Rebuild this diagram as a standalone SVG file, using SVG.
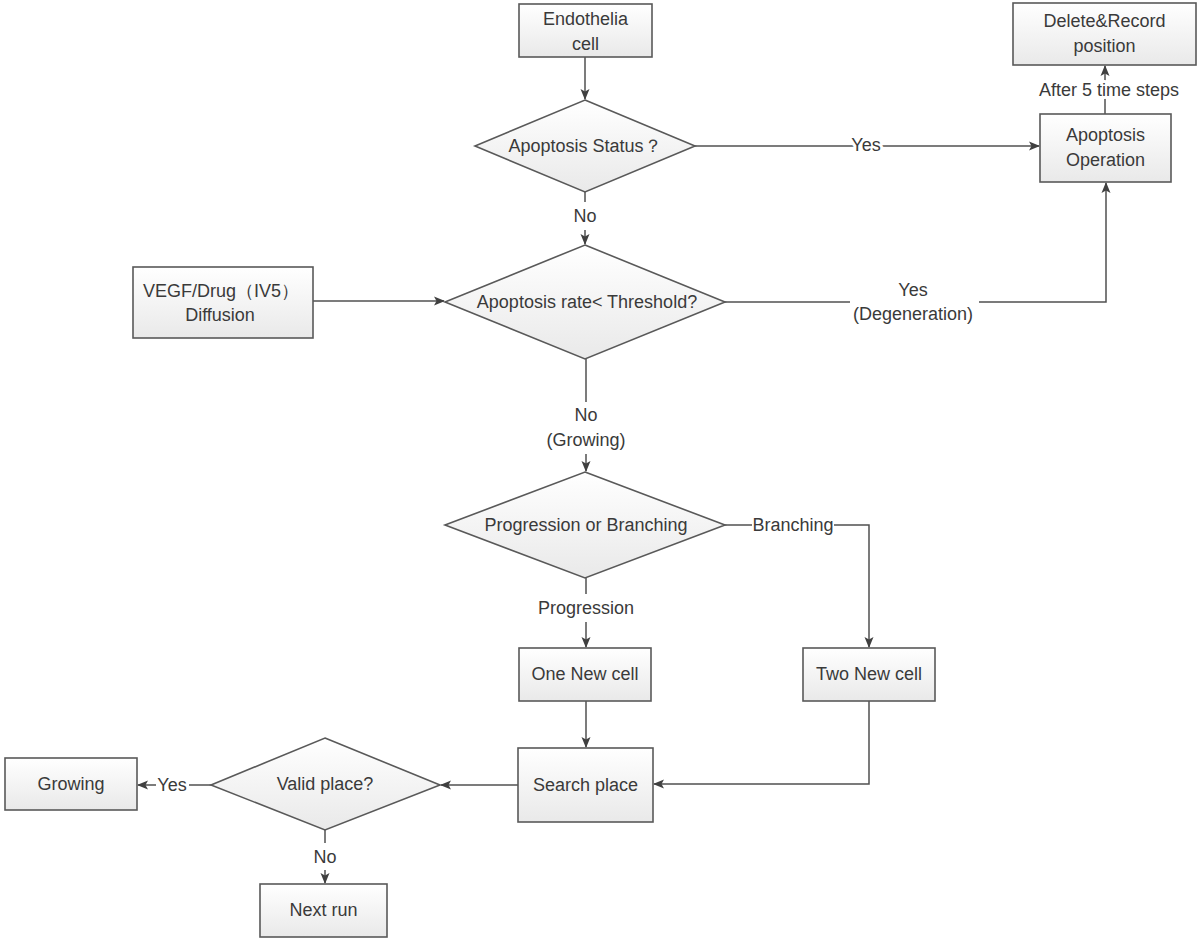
<svg xmlns="http://www.w3.org/2000/svg" width="1200" height="941" viewBox="0 0 1200 941">
<defs>
<linearGradient id="g" x1="0" y1="0" x2="0" y2="1">
<stop offset="0" stop-color="#ffffff"/>
<stop offset="1" stop-color="#e9e9e9"/>
</linearGradient>
<marker id="arr" markerWidth="11" markerHeight="11" refX="10" refY="5.5" orient="auto" markerUnits="userSpaceOnUse">
<path d="M0,1 L11,5.5 L0,10 L2.5,5.5 Z" fill="#404040"/>
</marker>
</defs>
<style>
.n{fill:url(#g);stroke:#595959;stroke-width:1.6}
.t{font-family:"Liberation Sans",Arial,sans-serif;font-size:18px;fill:#3a3a3a;text-anchor:middle;dominant-baseline:central}
.h{paint-order:stroke;stroke:#ffffff;stroke-width:6px;stroke-linejoin:round}
.c{fill:none;stroke:#505050;stroke-width:1.5}
.a{marker-end:url(#arr)}
</style>
<rect width="1200" height="941" fill="#ffffff"/>
<g id="connectors">
<path class="c a" d="M585,57 V99"/>
<path class="c a" d="M695,146 H1039"/>
<path class="c a" d="M1105,114 V66"/>
<path class="c" d="M585,192 V202"/>
<path class="c a" d="M585,230 V244"/>
<path class="c a" d="M313,301 H444"/>
<path class="c" d="M725,302 H850"/>
<path class="c a" d="M979,302 H1106 V183"/>
<path class="c" d="M586,359 V402"/>
<path class="c a" d="M586,454 V471"/>
<path class="c" d="M725,525 H752"/>
<path class="c a" d="M834,525 H869 V647"/>
<path class="c" d="M586,578 V594"/>
<path class="c a" d="M586,622 V647"/>
<path class="c a" d="M586,701 V747"/>
<path class="c a" d="M869,701 V784 H654"/>
<path class="c a" d="M518,785 H441"/>
<path class="c" d="M211,785 H189"/>
<path class="c a" d="M156,785 H138"/>
<path class="c" d="M325,830 V843"/>
<path class="c a" d="M325,870 V883"/>
</g>
<g id="labels">
<text class="t h" x="866" y="145">Yes</text>
<text class="t h" x="1109" y="90">After 5 time steps</text>
<text class="t" x="585" y="216">No</text>
<text class="t" x="913" y="290">Yes</text>
<text class="t" x="913" y="314">(Degeneration)</text>
<text class="t" x="586" y="415">No</text>
<text class="t" x="586" y="440">(Growing)</text>
<text class="t" x="793" y="525">Branching</text>
<text class="t" x="586" y="608">Progression</text>
<text class="t" x="172" y="785">Yes</text>
<text class="t" x="325" y="857">No</text>
</g>
<g id="endothelia">
<rect class="n" x="519" y="4" width="133" height="53"/>
<text class="t" x="585.5" y="19">Endothelia</text>
<text class="t" x="585.5" y="44">cell</text>
</g>
<g id="apoptosis-status">
<polygon class="n" points="585,100 695,146 585,192 475,146"/>
<text class="t" x="585" y="146">Apoptosis Status？</text>
</g>
<g id="delete-record">
<rect class="n" x="1013" y="3" width="183" height="62"/>
<text class="t" x="1104.5" y="21">Delete&amp;Record</text>
<text class="t" x="1104.5" y="46">position</text>
</g>
<g id="apoptosis-operation">
<rect class="n" x="1040" y="114" width="131" height="68"/>
<text class="t" x="1105.5" y="135">Apoptosis</text>
<text class="t" x="1105.5" y="160">Operation</text>
</g>
<g id="vegf">
<rect class="n" x="133" y="267" width="180" height="71"/>
<text class="t" x="221" y="291">VEGF/Drug（IV5）</text>
<text class="t" x="220" y="315">Diffusion</text>
</g>
<g id="apoptosis-rate">
<polygon class="n" points="585,245 725,302 585,359 445,302"/>
<text class="t" x="587" y="302">Apoptosis rate&lt; Threshold?</text>
</g>
<g id="progression-branching">
<polygon class="n" points="585,472 725,525 585,578 445,525"/>
<text class="t" x="586" y="525">Progression or Branching</text>
</g>
<g id="one-new-cell">
<rect class="n" x="519" y="648" width="132" height="53"/>
<text class="t" x="585" y="674">One New cell</text>
</g>
<g id="two-new-cell">
<rect class="n" x="803" y="648" width="132" height="53"/>
<text class="t" x="869" y="674">Two New cell</text>
</g>
<g id="search-place">
<rect class="n" x="518" y="748" width="135" height="74"/>
<text class="t" x="585.5" y="785">Search place</text>
</g>
<g id="valid-place">
<polygon class="n" points="325,738 440,785 325,830 211,785"/>
<text class="t" x="325" y="784">Valid place?</text>
</g>
<g id="growing">
<rect class="n" x="5" y="758" width="132" height="52"/>
<text class="t" x="71" y="784">Growing</text>
</g>
<g id="next-run">
<rect class="n" x="260" y="884" width="127" height="53"/>
<text class="t" x="323.5" y="910">Next run</text>
</g>
</svg>
